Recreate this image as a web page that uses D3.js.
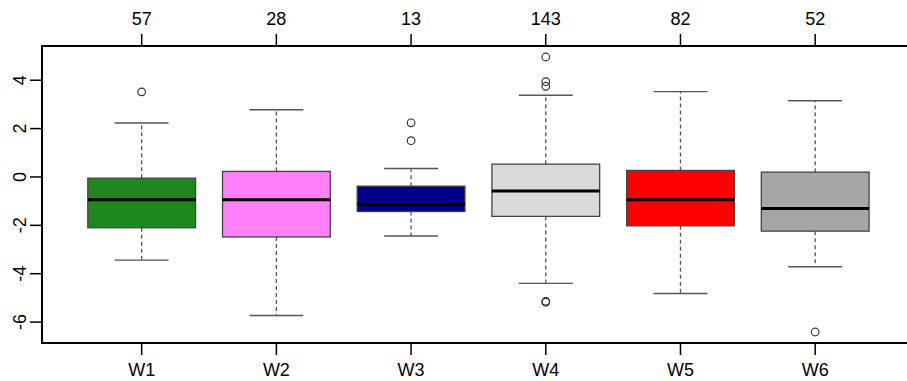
<!DOCTYPE html>
<html>
<head>
<meta charset="utf-8">
<script src="https://cdn.jsdelivr.net/npm/d3@7"></script>
<style>
    body { margin: 0; background: #fff; }
    #chart svg { display: block; }
    text { font-family: "Liberation Sans", Arial, sans-serif; fill: #000; }
</style>
</head>
<body>
<div id="chart"></div>
<script>
// ===== dane wykresu =====
const groups = ['W1', 'W2', 'W3', 'W4', 'W5', 'W6'];
const counts = [57, 28, 13, 143, 82, 52];
const fills = ['#1e881e', '#ff80f8', '#00008b', '#d9d9d9', '#ff0000', '#a6a6a6'];

const whiskerLow  = [-3.44, -5.73, -2.44, -4.40, -4.82, -3.71];
const q1          = [-2.10, -2.48, -1.43, -1.63, -2.02, -2.24];
const medians     = [-0.94, -0.94, -1.13, -0.58, -0.94, -1.30];
const q3          = [-0.05,  0.23, -0.38,  0.53,  0.27,  0.20];
const whiskerHigh = [ 2.23,  2.78,  0.35,  3.38,  3.53,  3.15];
const outliers = [
    [3.52],
    [],
    [2.24, 1.50],
    [4.96, 3.94, 3.75, -5.14, -5.18],
    [],
    [-6.41]
];

const yTicks = [4, 2, 0, -2, -4, -6];

const width = 907;
const height = 381;
const margin = { top: 46, left: 42, bottom: 343 };
const fontSize = '18px';

const svg = d3.select('#chart')
    .append('svg')
    .attr('width', width)
    .attr('height', height);

// zakres osi y jak w R: rozpiętość danych + 4% z każdej strony
const allValues = whiskerLow.concat(whiskerHigh, outliers.flat());
const lo = d3.min(allValues), hi = d3.max(allValues);
const pad = (hi - lo) * 0.04;
const y = d3.scaleLinear()
    .domain([lo - pad, hi + pad])
    .range([margin.bottom, margin.top]);

// pozycje pudełek 1..n, zakres 0.5..n+0.5 też rozszerzony o 4%
const n = groups.length;
const xPad = n * 0.04;
const x = d3.scaleLinear()
    .domain([0.5 - xPad, n + 0.5 + xPad])
    .range([margin.left, margin.left + 134.7 * (n + 2 * xPad)]);

const boxW = x(1.4) - x(1);
const capW = x(1.2) - x(1);

const g = svg.append('g');

groups.forEach((name, i) => {
    const cx = x(i + 1);
    const grp = g.append('g').attr('class', 'box');

    // wąsy (przerywane)
    grp.append('line')
        .attr('x1', cx).attr('x2', cx)
        .attr('y1', y(q3[i])).attr('y2', y(whiskerHigh[i]))
        .style('stroke', '#555').style('stroke-width', 1.3)
        .style('stroke-dasharray', '4,3');
    grp.append('line')
        .attr('x1', cx).attr('x2', cx)
        .attr('y1', y(q1[i])).attr('y2', y(whiskerLow[i]))
        .style('stroke', '#555').style('stroke-width', 1.3)
        .style('stroke-dasharray', '4,3');

    // końcówki wąsów
    [whiskerHigh[i], whiskerLow[i]].forEach(v => {
        grp.append('line')
            .attr('x1', cx - capW).attr('x2', cx + capW)
            .attr('y1', y(v)).attr('y2', y(v))
            .style('stroke', '#555').style('stroke-width', 1.4);
    });

    // pudełko
    grp.append('rect')
        .attr('x', cx - boxW)
        .attr('y', y(q3[i]))
        .attr('width', boxW * 2)
        .attr('height', y(q1[i]) - y(q3[i]))
        .style('fill', fills[i])
        .style('stroke', '#444')
        .style('stroke-width', 1.3);

    // mediana
    grp.append('line')
        .attr('x1', cx - boxW).attr('x2', cx + boxW)
        .attr('y1', y(medians[i])).attr('y2', y(medians[i]))
        .style('stroke', '#000').style('stroke-width', 3);

    // punkty odstające
    grp.selectAll('circle')
        .data(outliers[i])
        .enter().append('circle')
        .attr('cx', cx)
        .attr('cy', d => y(d))
        .attr('r', 3.8)
        .style('fill', 'none')
        .style('stroke', '#333')
        .style('stroke-width', 1.2);
});

// ramka wykresu (prawa krawędź poza obrazem)
const right = x(n + 0.5 + xPad);
svg.append('rect')
    .attr('x', margin.left)
    .attr('y', margin.top)
    .attr('width', right - margin.left)
    .attr('height', margin.bottom - margin.top)
    .style('fill', 'none')
    .style('stroke', '#000')
    .style('stroke-width', 2);

// oś y - ręcznie, etykiety obrócone jak w R
const yAxis = svg.append('g');
yTicks.forEach(t => {
    yAxis.append('line')
        .attr('x1', margin.left - 12).attr('x2', margin.left)
        .attr('y1', y(t)).attr('y2', y(t))
        .style('stroke', '#000').style('stroke-width', 1.5);
    yAxis.append('text')
        .attr('transform', `translate(26,${y(t)}) rotate(-90)`)
        .style('text-anchor', 'middle')
        .style('font-size', fontSize)
        .text(t);
});

// oś dolna - nazwy grup
const bottomAxis = svg.append('g');
groups.forEach((name, i) => {
    const cx = x(i + 1);
    bottomAxis.append('line')
        .attr('x1', cx).attr('x2', cx)
        .attr('y1', margin.bottom).attr('y2', margin.bottom + 12)
        .style('stroke', '#000').style('stroke-width', 1.5);
    bottomAxis.append('text')
        .attr('x', cx).attr('y', 376)
        .style('text-anchor', 'middle')
        .style('font-size', fontSize)
        .text(name);
});

// oś górna - liczebności
const topAxis = svg.append('g');
counts.forEach((c, i) => {
    const cx = x(i + 1);
    topAxis.append('line')
        .attr('x1', cx).attr('x2', cx)
        .attr('y1', margin.top).attr('y2', margin.top - 12)
        .style('stroke', '#000').style('stroke-width', 1.5);
    topAxis.append('text')
        .attr('x', cx).attr('y', 25)
        .style('text-anchor', 'middle')
        .style('font-size', fontSize)
        .text(c);
});

console.log('boxplot narysowany:', groups.length, 'grup');
</script>
</body>
</html>
